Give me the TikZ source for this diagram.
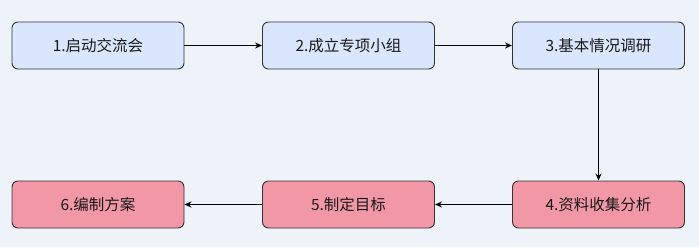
\documentclass[tikz,border=0pt]{standalone}
\usepackage{fontspec}
\setmainfont{Noto Sans CJK SC}
\usetikzlibrary{arrows.meta}
\definecolor{bgc}{HTML}{EEF2F9}
\definecolor{bluef}{HTML}{DAE6FC}
\definecolor{pinkf}{HTML}{F297A6}
\definecolor{edgec}{HTML}{333333}
\tikzset{
  stepbox/.style={draw=edgec, line width=0.9pt, rounded corners=6pt, minimum width=172pt, minimum height=47pt, inner sep=0pt, font=\fontsize{15.5pt}{17pt}\selectfont, text=black!90},
  bluebox/.style={stepbox, fill=bluef},
  pinkbox/.style={stepbox, fill=pinkf},
  conn/.style={draw=black, line width=1.2pt, -{Stealth[length=7pt,width=6pt]}}
}
\begin{document}
\begin{tikzpicture}[x=1pt,y=1pt]
\fill[bgc] (0,0) rectangle (699,247);
\useasboundingbox (0,0) rectangle (699,247);
\node[bluebox] (n1) at (98,201.5) {1.启动交流会};
\node[bluebox] (n2) at (348.5,201.5) {2.成立专项小组};
\node[bluebox] (n3) at (598.5,201.5) {3.基本情况调研};
\node[pinkbox] (n4) at (598.5,42.5) {4.资料收集分析};
\node[pinkbox] (n5) at (348.5,42.5) {5.制定目标};
\node[pinkbox] (n6) at (98,42.5) {6.编制方案};
\draw[conn] (n1) -- (n2);
\draw[conn] (n2) -- (n3);
\draw[conn] (n3) -- (n4);
\draw[conn] (n4) -- (n5);
\draw[conn] (n5) -- (n6);
\end{tikzpicture}
\end{document}
